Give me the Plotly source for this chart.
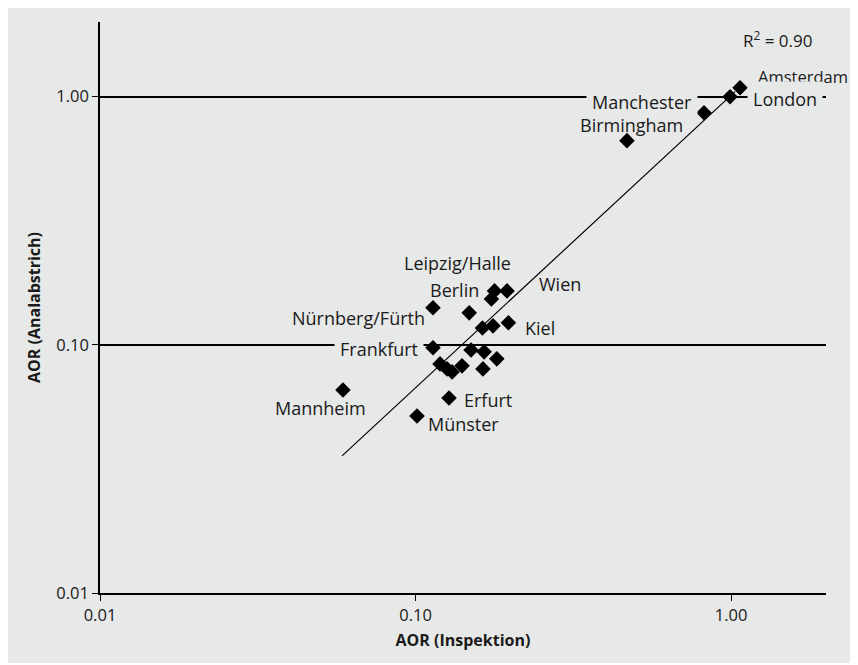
import plotly.graph_objects as go
import math

# ---- data ----
aor_inspektion = [1.068, 0.993, 0.821, 0.468,
                  0.178, 0.195, 0.174,
                  0.148, 0.1136,
                  0.163, 0.176, 0.197,
                  0.1136, 0.150, 0.165, 0.181,
                  0.1196, 0.1259, 0.1306, 0.1404, 0.1636,
                  0.1277, 0.1011, 0.0589]
aor_analabstrich = [1.087, 1.000, 0.862, 0.665,
                    0.165, 0.165, 0.153,
                    0.1346, 0.141,
                    0.117, 0.1193, 0.1227,
                    0.0973, 0.0953, 0.0937, 0.0878,
                    0.0838, 0.0800, 0.0778, 0.0823, 0.0800,
                    0.0611, 0.0517, 0.0658]

fit_x = [0.0585, 1.030]
fit_y = [0.0357, 1.048]
r2_text = "R<sup>2</sup> = 0.90"

tick_vals = [0.01, 0.1, 1.0]
tick_text = ["0.01", "0.10", "1.00"]

# label: (text, point index, xanchor, xshift, yshift, boxed, font size)
labels = [
    ("Amsterdam", 0, "left", 17, 11, False, 16.5),
    ("London", 1, "left", 17, -2, True, 18),
    ("Manchester", 2, "right", -6, 11, True, 18),
    ("Birmingham", 3, "center", 5, 16, False, 18),
    ("Leipzig/Halle", 4, "center", -37, 28, False, 18),
    ("Wien", 5, "left", 31, 7, False, 18),
    ("Berlin", 7, "center", -15, 23, False, 18),
    ("Nürnberg/Fürth", 8, "right", -7, -10, False, 18),
    ("Kiel", 11, "left", 16, -5, False, 18),
    ("Frankfurt", 12, "right", -9, -1, True, 18),
    ("Erfurt", 21, "left", 14, -2, False, 18),
    ("Münster", 22, "left", 10, -8, False, 18),
    ("Mannheim", 23, "center", -22, -18, False, 18),
]

BG = "#e7e8e8"
FONT = "Open Sans, sans-serif"
TXT = "#1a1a1a"

fig = go.Figure()
fig.add_trace(go.Scatter(x=fit_x, y=fit_y, mode="lines",
                         line=dict(color="black", width=1.2),
                         hoverinfo="skip", showlegend=False))
fig.add_trace(go.Scatter(x=aor_inspektion, y=aor_analabstrich, mode="markers",
                         marker=dict(symbol="diamond", size=12, color="black"),
                         showlegend=False))

annotations = []
for text, idx, xa, xs, ys, boxed, fs in labels:
    ann = dict(
        x=math.log10(aor_inspektion[idx]), y=math.log10(aor_analabstrich[idx]),
        xref="x", yref="y", text=text, showarrow=False,
        xanchor=xa, yanchor="middle", xshift=xs, yshift=ys,
        font=dict(family=FONT, size=fs, color=TXT))
    if boxed:
        ann["bgcolor"] = BG
        ann["borderpad"] = 5
    else:
        ann["borderpad"] = 0
    annotations.append(ann)

annotations.append(dict(x=0.985, y=0.970, xref="paper", yref="paper",
                        text=r2_text, showarrow=False, xanchor="right", yanchor="middle",
                        font=dict(family=FONT, size=17, color=TXT)))

fig.update_layout(
    width=850, height=655,
    margin=dict(l=92, r=32, t=14, b=70),
    paper_bgcolor=BG, plot_bgcolor=BG,
    annotations=annotations,
    xaxis=dict(type="log", range=[-2, math.log10(2.0)],
               tickvals=tick_vals, ticktext=tick_text,
               showgrid=False, zeroline=False,
               showline=True, linecolor="black", linewidth=1.5,
               ticks="outside", ticklen=6, tickcolor="black", tickwidth=1.2,
               tickfont=dict(family=FONT, size=16.5, color=TXT),
               title=dict(text="<b>AOR (Inspektion)</b>", standoff=10,
                          font=dict(family=FONT, size=16, color=TXT))),
    yaxis=dict(type="log", range=[-2, math.log10(2.0)],
               tickvals=tick_vals, ticktext=tick_text,
               showgrid=True, gridcolor="black", gridwidth=1.5, zeroline=False,
               showline=True, linecolor="black", linewidth=1.5,
               ticks="outside", ticklen=6, tickcolor="black", tickwidth=1.2,
               tickfont=dict(family=FONT, size=16.5, color=TXT),
               title=dict(text="<b>AOR (Analabstrich)</b>", standoff=12,
                          font=dict(family=FONT, size=16, color=TXT))),
)

fig.write_html("out.html")
